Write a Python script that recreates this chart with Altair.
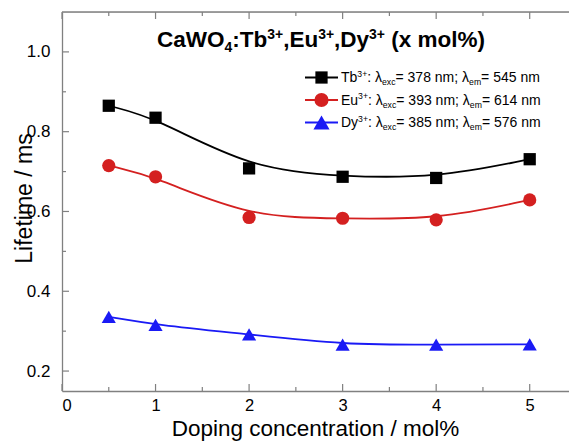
import altair as alt
import pandas as pd

# Luminescence lifetimes of CaWO4 doped with Tb3+, Eu3+, Dy3+
conc = [0.5, 1, 2, 3, 4, 5]
tb = [0.865, 0.835, 0.708, 0.687, 0.684, 0.731]
eu = [0.715, 0.687, 0.585, 0.583, 0.579, 0.629]
dy = [0.336, 0.316, 0.292, 0.266, 0.266, 0.267]

series_names = ["Tb", "Eu", "Dy"]
series_colors = ["#000000", "#d42020", "#1a1af5"]
series_shapes = ["square", "circle", "triangle-up"]
series_sizes = [150, 200, 260]
exc_nm = [378, 393, 385]
em_nm = [545, 614, 576]

x_major = [0, 1, 2, 3, 4, 5]
x_minor = [0.5, 1.5, 2.5, 3.5, 4.5]
y_major = [0.2, 0.4, 0.6, 0.8, 1.0]
y_minor = [0.3, 0.5, 0.7, 0.9]

W, H = 507, 379
FONT = "Liberation Sans"
GREY = "#808080"
xs = alt.Scale(domain=[0, 5.42], nice=False, zero=False)
ys = alt.Scale(domain=[0.15, 1.1], nice=False, zero=False)

x_axis = alt.Axis(
    values=x_major, format="d", ticks=False, grid=False,
    domainColor=GREY, domainWidth=1.3, labelFont=FONT, labelFontSize=16.5,
    labelColor="#000", labelPadding=6,
    title="Doping concentration / mol%", titleFont=FONT, titleFontSize=22.5,
    titleFontWeight="normal", titleColor="#000", titleX=253, titleY=44,
    titleBaseline="alphabetic")
y_axis = alt.Axis(
    values=y_major, format=".1f", ticks=False, grid=False,
    domainColor=GREY, domainWidth=1.3, labelFont=FONT, labelFontSize=17,
    labelColor="#000", labelPadding=12,
    title="Lifetime / ms", titleFont=FONT, titleFontSize=23,
    titleFontWeight="normal", titleColor="#000", titleX=-31, titleY=186,
    titleBaseline="alphabetic", titleAngle=-90)

# Arial-compatible advance widths (em units) for placing rich text pieces
REG = {"T": .611, "b": .556, "3": .556, "+": .584, ":": .278, " ": .278, "λ": .5,
       "e": .556, "x": .5, "c": .5, "=": .584, "7": .556, "8": .556, "n": .556,
       "m": .833, ";": .278, "5": .556, "4": .556, "E": .667, "u": .556, "9": .556,
       "6": .556, "1": .556, "D": .722, "y": .5, "0": .556, "2": .556}
BOLD = {"C": .722, "a": .556, "W": .944, "O": .778, "4": .556, ":": .333, "T": .611,
        "b": .611, "3": .556, "+": .584, ",": .278, "E": .667, "u": .611, "D": .722,
        "y": .556, " ": .278, "(": .333, "x": .556, "m": .889, "o": .611, "l": .278,
        "%": .889, ")": .333}


def rich(segments, x0, base, size, table):
    rows, x = [], x0
    for txt, kind in segments:
        s = size if kind == "n" else size * 0.62
        shift = {"n": 0.0, "sup": -0.36 * size, "sub": 0.24 * size}[kind]
        lead = len(txt) - len(txt.lstrip(" "))
        x += lead * table[" "] * s
        body = txt.strip(" ")
        rows.append({"px": x, "py": base + shift, "fs": s, "t": body})
        x += sum(table[c] for c in body) * s
        x += (len(txt) - lead - len(body)) * table[" "] * s
    return rows


df = pd.DataFrame({
    "x": conc * 3,
    "y": tb + eu + dy,
    "s": [n for n in series_names for _ in conc],
})

color = alt.Color("s:N", scale=alt.Scale(domain=series_names, range=series_colors), legend=None)

lines = alt.Chart(df).mark_line(interpolate="basis", strokeWidth=1.8).encode(
    x=alt.X("x:Q", scale=xs, axis=x_axis),
    y=alt.Y("y:Q", scale=ys, axis=y_axis),
    color=color,
    detail="s:N",
)

points = alt.Chart(df).mark_point(filled=True, opacity=1, strokeWidth=0).encode(
    x=alt.X("x:Q", scale=xs, axis=x_axis),
    y=alt.Y("y:Q", scale=ys, axis=y_axis),
    color=color,
    shape=alt.Shape("s:N", scale=alt.Scale(domain=series_names, range=series_shapes), legend=None),
    size=alt.Size("s:N", scale=alt.Scale(domain=series_names, range=series_sizes), legend=None),
)


# inward tick marks on bottom, top and left edges
def xticks(vals, length, top):
    y0 = 0 if top else H
    y1 = length if top else H - length
    return alt.Chart(pd.DataFrame({"x": vals})).mark_rule(color=GREY, strokeWidth=1.2).encode(
        x=alt.X("x:Q", scale=xs, axis=x_axis), y=alt.value(y0), y2=alt.value(y1))


def yticks(vals, length):
    return alt.Chart(pd.DataFrame({"y": vals})).mark_rule(color=GREY, strokeWidth=1.2).encode(
        y=alt.Y("y:Q", scale=ys, axis=y_axis), x=alt.value(0), x2=alt.value(length))


top_border = alt.Chart(pd.DataFrame({"a": [0]})).mark_rule(color=GREY, strokeWidth=1.3).encode(
    x=alt.value(0), x2=alt.value(W), y=alt.value(0))

# title with sub/superscripts
title_rows = rich([("CaWO", "n"), ("4", "sub"), (":Tb", "n"), ("3+", "sup"), (",Eu", "n"),
                   ("3+", "sup"), (",Dy", "n"), ("3+", "sup"), (" (x mol%)", "n")],
                  95, 35, 22.5, BOLD)
title = alt.Chart(pd.DataFrame(title_rows)).mark_text(
    align="left", baseline="alphabetic", font=FONT, fontWeight="bold", color="#000").encode(
    x=alt.X("px:Q", scale=None), y=alt.Y("py:Q", scale=None),
    size=alt.Size("fs:Q", scale=None), text="t:N")

# legend block
row_y = [65.5, 88, 110.5]
leg_rows, leg_lines, leg_marks = [], [], []
for i, name in enumerate(series_names):
    segs = [(name, "n"), ("3+", "sup"), (": λ", "n"), ("exc", "sub"),
            ("= %d nm; λ" % exc_nm[i], "n"), ("em", "sub"), ("= %d nm" % em_nm[i], "n")]
    leg_rows += rich(segs, 279, row_y[i] + 4.5, 14, REG)
    leg_lines.append({"x1": 243, "x2": 276, "y": row_y[i], "c": series_colors[i]})
    leg_marks.append({"px": 259.5, "py": row_y[i], "c": series_colors[i],
                      "sh": series_shapes[i], "sz": series_sizes[i]})

legend_text = alt.Chart(pd.DataFrame(leg_rows)).mark_text(
    align="left", baseline="alphabetic", font=FONT, color="#000").encode(
    x=alt.X("px:Q", scale=None), y=alt.Y("py:Q", scale=None),
    size=alt.Size("fs:Q", scale=None), text="t:N")
legend_lines = alt.Chart(pd.DataFrame(leg_lines)).mark_rule(strokeWidth=1.8).encode(
    x=alt.X("x1:Q", scale=None), x2="x2:Q", y=alt.Y("y:Q", scale=None),
    color=alt.Color("c:N", scale=None))
legend_marks = alt.Chart(pd.DataFrame(leg_marks)).mark_point(filled=True, opacity=1, strokeWidth=0).encode(
    x=alt.X("px:Q", scale=None), y=alt.Y("py:Q", scale=None),
    color=alt.Color("c:N", scale=None), shape=alt.Shape("sh:N", scale=None),
    size=alt.Size("sz:Q", scale=None))

chart = alt.layer(
    lines, points,
    xticks(x_major, 7, False), xticks(x_minor, 4, False),
    xticks(x_major, 7, True), xticks(x_minor, 4, True),
    yticks(y_major, 7), yticks(y_minor, 4),
    top_border, title, legend_lines, legend_marks, legend_text,
).properties(
    width=W, height=H,
    autosize=alt.AutoSizeParams(type="none"),
    padding={"left": 62, "top": 12, "right": 0, "bottom": 51},
).configure_view(stroke=None).configure(background="white")

chart.save("out.html", embed_options={"renderer": "svg", "actions": False})
